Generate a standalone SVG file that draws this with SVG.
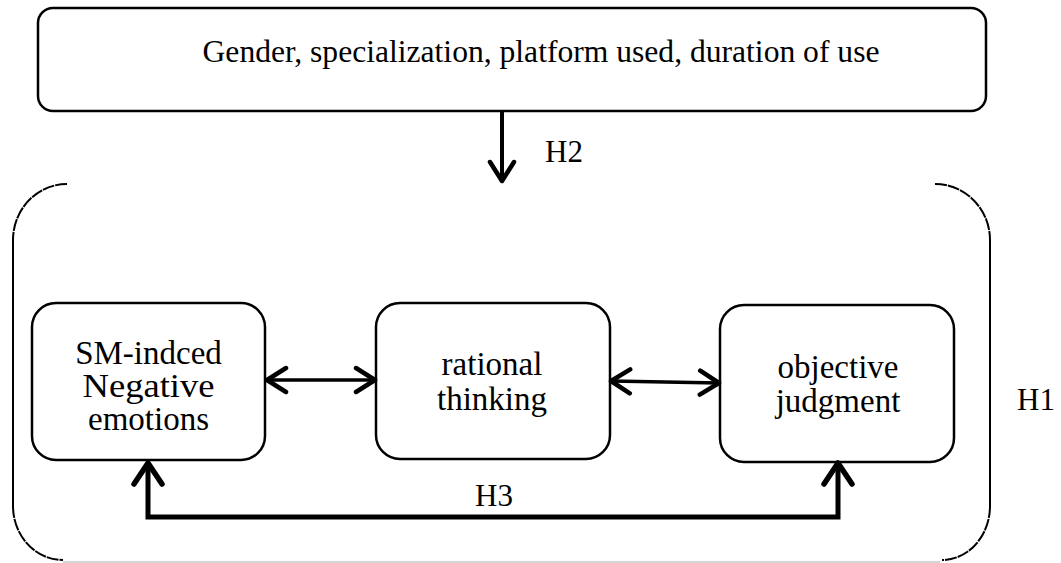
<svg xmlns="http://www.w3.org/2000/svg" width="1061" height="563" viewBox="0 0 1061 563">
<style>
  .box { fill: #fff; stroke: #000; stroke-width: 2.5; }
  .t { font-family: "Liberation Serif", "Times New Roman", serif; fill: #000; }
  .lbl { font-size: 33px; text-anchor: middle; }
  .h { font-size: 31px; }
  .conn { fill: none; stroke: #000; }
  .brk { fill: none; stroke: #000; stroke-width: 2; }
  .arc { fill: none; stroke: #000; stroke-width: 2; stroke-dasharray: 12 1; }
</style>
<defs>
  <marker id="chev4" markerUnits="userSpaceOnUse" viewBox="0 0 26 30" refX="22" refY="15" markerWidth="26" markerHeight="30" orient="auto-start-reverse">
    <path d="M3,3 L22,15 L3,27" fill="none" stroke="#000" stroke-width="4.5" stroke-linecap="round" stroke-linejoin="round"/>
  </marker>
  <marker id="chev5" markerUnits="userSpaceOnUse" viewBox="0 0 28 34" refX="24" refY="17" markerWidth="28" markerHeight="34" orient="auto-start-reverse">
    <path d="M3,3 L24,17 L3,31" fill="none" stroke="#000" stroke-width="5.5" stroke-linecap="round" stroke-linejoin="round"/>
  </marker>
</defs>
<rect width="1061" height="563" fill="#fff"/>

<g id="container">
  <path class="arc" d="M67,184 A54,56 0 0 0 13,240"/>
  <line class="brk" x1="13" y1="240" x2="13" y2="506"/>
  <path class="arc" d="M13,506 A50,54 0 0 0 63,560"/>
  <path class="arc" d="M935,184 A55,56 0 0 1 990,240"/>
  <line class="brk" x1="990" y1="240" x2="990" y2="506"/>
  <path class="arc" d="M990,506 A48,54 0 0 1 942,560"/>
  <line x1="63" y1="562" x2="940" y2="562" stroke="#aaa" stroke-width="1"/>
  <text class="t h" x="1017" y="410">H1</text>
</g>

<g id="factors">
  <rect class="box" x="38" y="8" width="948" height="103" rx="15" ry="15"/>
  <text class="t" x="541" y="62" font-size="31.6" text-anchor="middle">Gender, specialization, platform used, duration of use</text>
</g>

<g id="emotions">
  <rect class="box" x="32" y="303" width="233" height="157" rx="24" ry="24"/>
  <text class="t lbl" x="148.5" y="364">SM-indced</text>
  <text class="t lbl" x="148.5" y="397" textLength="132" lengthAdjust="spacingAndGlyphs">Negative</text>
  <text class="t lbl" x="148.5" y="430">emotions</text>
</g>

<g id="rational">
  <rect class="box" x="376" y="303" width="234" height="156" rx="24" ry="24"/>
  <text class="t lbl" x="492" y="375">rational</text>
  <text class="t lbl" x="492" y="410">thinking</text>
</g>

<g id="objective">
  <rect class="box" x="720" y="305" width="234" height="157" rx="24" ry="24"/>
  <text class="t lbl" x="838" y="378">objective</text>
  <text class="t lbl" x="838" y="412">judgment</text>
</g>

<g id="connectors">
  <line class="conn" stroke-width="4" x1="502" y1="112" x2="502" y2="181" marker-end="url(#chev4)"/>
  <text class="t h" x="545" y="162">H2</text>
  <line class="conn" stroke-width="3.5" x1="267" y1="380" x2="375" y2="380" marker-start="url(#chev4)" marker-end="url(#chev4)"/>
  <line class="conn" stroke-width="3.5" x1="611" y1="381" x2="719" y2="383" marker-start="url(#chev4)" marker-end="url(#chev4)"/>
  <path class="conn" stroke-width="5" stroke-linejoin="miter" d="M148,463 L148,517 L838,517 L838,463" marker-start="url(#chev5)" marker-end="url(#chev5)"/>
  <text class="t h" x="475" y="506">H3</text>
</g>
</svg>
